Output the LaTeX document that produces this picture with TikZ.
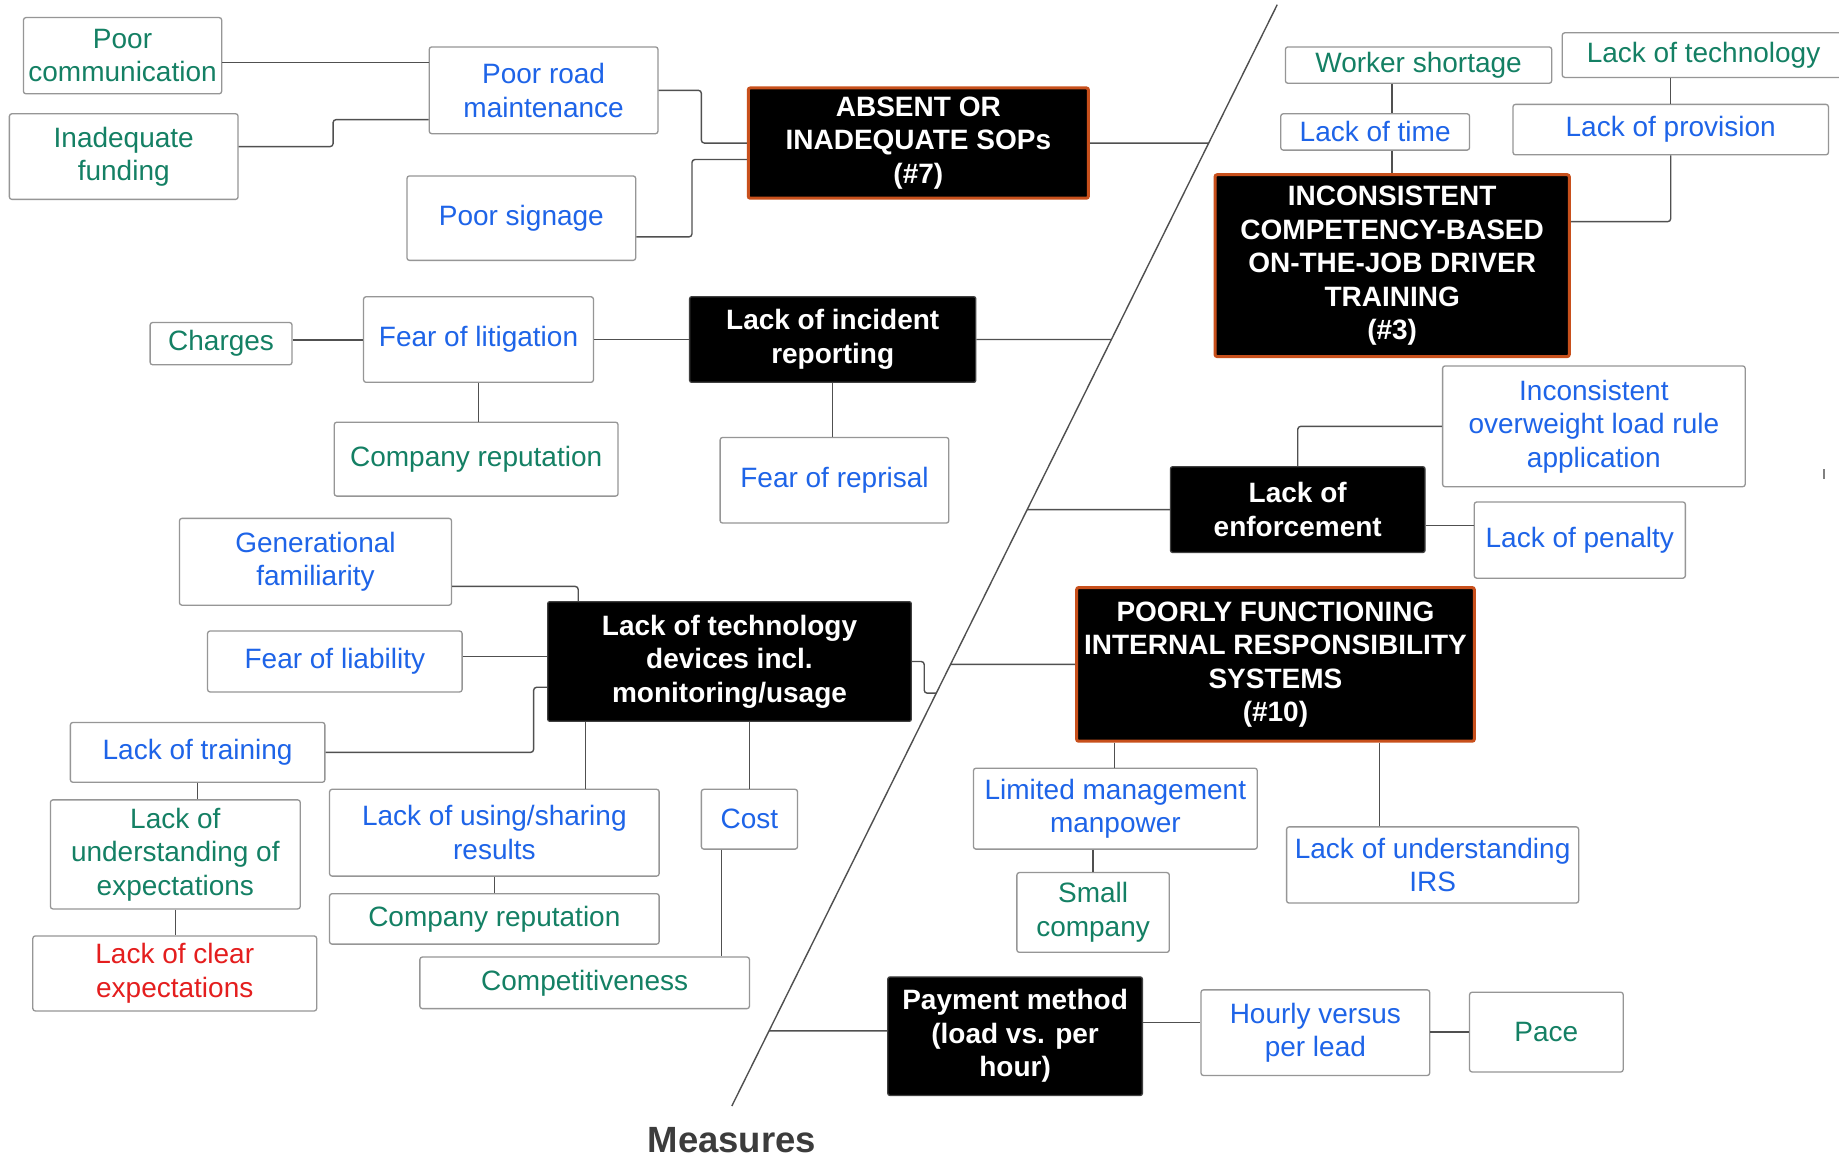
\documentclass[tikz,border=0pt]{standalone}
\usepackage{fontspec}
\setmainfont{Liberation Sans}
\usetikzlibrary{calc}
\definecolor{tgreen}{RGB}{20,128,100}
\definecolor{tblue}{RGB}{30,100,232}
\definecolor{tred}{RGB}{228,30,30}
\definecolor{bgray}{RGB}{150,150,150}
\definecolor{lgray}{RGB}{80,80,80}
\definecolor{korange}{RGB}{200,80,28}
\definecolor{measgray}{RGB}{60,60,60}
\newcommand\mybox[7]{\node[#6, minimum width={(#4-#2)*1.1728pt}, minimum height={(#5-#3)*1.1728pt}] (#1) at ({(#2+#4)/2},{(#3+#5)/2}) {#7};}
\begin{document}
\begin{tikzpicture}[x=1.1728pt,y=-1.1728pt,
  leaf/.style={draw=bgray, line width=1.3pt, rounded corners=2.5pt, fill=white, align=center, inner sep=0pt, font={\fontsize{28}{33.5}\selectfont}},
  gtxt/.style={leaf, text=tgreen},
  btxt/.style={leaf, text=tblue},
  rtxt/.style={leaf, text=tred},
  core/.style={draw=black!75, line width=1.3pt, fill=black, text=white, rounded corners=2pt, align=center, inner sep=0pt, font={\bfseries\fontsize{28}{33.5}\selectfont}},
  keybox/.style={core, draw=korange, line width=3pt},
  conn/.style={draw=lgray, line width=1.4pt, rounded corners=3pt},
  spine/.style={draw=lgray, line width=1.4pt}
]
\fill[white] (0,0) rectangle (1568,987);
\useasboundingbox (0,0) rectangle (1568,987);

% spine
\coordinate (st) at (1089,4);
\coordinate (sb) at (624,943);
\draw[spine] (st) -- (sb);
\coordinate (s1) at ($(st)!{(122-4)/939}!(sb)$);
\coordinate (s2) at ($(st)!{(289.5-4)/939}!(sb)$);
\coordinate (s3) at ($(st)!{(434.5-4)/939}!(sb)$);
\coordinate (s4) at ($(st)!{(591-4)/939}!(sb)$);
\coordinate (s5) at ($(st)!{(566.5-4)/939}!(sb)$);
\coordinate (s6) at ($(st)!{(879-4)/939}!(sb)$);

% top left
\mybox{pc}{20}{15}{189}{80}{gtxt}{Poor\\communication}
\mybox{inf}{8}{97}{203}{170}{gtxt}{Inadequate\\funding}
\mybox{prm}{366}{40}{561}{114}{btxt}{Poor road\\maintenance}
\mybox{ps}{347}{150}{542}{222}{btxt}{Poor signage}
\mybox{sop}{638}{75}{928}{169}{keybox}{ABSENT OR\\INADEQUATE SOPs\\(\#7)}

% top right
\mybox{ws}{1096}{40}{1323}{71}{gtxt}{Worker shortage}
\mybox{ltech}{1332}{28}{1573}{66}{gtxt}{Lack of technology}
\mybox{lt}{1092}{97}{1253}{128}{btxt}{Lack of time}
\mybox{lprov}{1290}{89}{1559}{132}{btxt}{Lack of provision}
\mybox{inc}{1036}{149}{1338}{304}{keybox}{INCONSISTENT\\COMPETENCY-BASED\\ON-THE-JOB DRIVER\\TRAINING\\(\#3)}

% middle left
\mybox{ch}{128}{275}{249}{311}{gtxt}{Charges}
\mybox{fl}{310}{253}{506}{326}{btxt}{Fear of litigation}
\mybox{cra}{285}{360}{527}{423}{gtxt}{Company reputation}
\mybox{lir}{588}{253}{832}{326}{core}{Lack of incident\\reporting}
\mybox{fr}{614}{373}{809}{446}{btxt}{Fear of reprisal}

% lower left
\mybox{gf}{153}{442}{385}{516}{btxt}{Generational\\familiarity}
\mybox{fli}{177}{538}{394}{590}{btxt}{Fear of liability}
\mybox{tech}{467}{513}{777}{615}{core}{Lack of technology\\devices incl.\\monitoring/usage}
\mybox{ltr}{60}{616}{277}{667}{btxt}{Lack of training}
\mybox{lu}{43}{682}{256}{775}{gtxt}{Lack of\\understanding of\\expectations}
\mybox{lce}{28}{798}{270}{862}{rtxt}{Lack of clear\\expectations}
\mybox{lus}{281}{673}{562}{747}{btxt}{Lack of using/sharing\\results}
\mybox{crb}{281}{762}{562}{805}{gtxt}{Company reputation}
\mybox{cost}{598}{673}{680}{724}{btxt}{Cost}
\mybox{comp}{358}{816}{639}{860}{gtxt}{Competitiveness}

% middle right
\mybox{ino}{1230}{312}{1488}{415}{btxt}{Inconsistent\\overweight load rule\\application}
\mybox{enf}{998}{398}{1215}{471}{core}{Lack of\\enforcement}
\mybox{pen}{1257}{428}{1437}{493}{btxt}{Lack of penalty}
\mybox{pf}{918}{501}{1257}{632}{keybox}{POORLY FUNCTIONING\\INTERNAL RESPONSIBILITY\\SYSTEMS\\(\#10)}

% bottom right
\mybox{lmm}{830}{655}{1072}{724}{btxt}{Limited management\\manpower}
\mybox{sc}{867}{744}{997}{812}{gtxt}{Small\\company}
\mybox{lui}{1097}{705}{1346}{770}{btxt}{Lack of understanding\\IRS}
\mybox{pm}{757}{833}{974}{934}{core}{Payment method\\(load vs. per\\hour)}
\mybox{hv}{1024}{844}{1219}{917}{btxt}{Hourly versus\\per lead}
\mybox{pace}{1253}{846}{1384}{914}{gtxt}{Pace}

\node[text=measgray, font={\bfseries\fontsize{36.5}{42}\selectfont}, inner sep=0pt] (meas) at (624,972.5) {Measures};

% connectors top left
\draw[conn] (pc.east |- 0,53.5) -- (prm.west |- 0,53.5);
\draw[conn] (inf.east |- 0,125) -- (284,125) -- (284,102) -- (prm.west |- 0,102);
\draw[conn] (prm.east) -- (598,77) |- (sop.west);
\draw[conn] (ps.east |- 0,202) -- (590,202) -- (590,136) -- (sop.west |- 0,136);
\draw[conn] (sop.east) -- (s1);

% connectors top right
\draw[conn] (ws.south -| 1187,0) -- (lt.north -| 1187,0);
\draw[conn] (lt.south -| inc.north) -- (inc.north);
\draw[conn] (ltech.south -| lprov.north) -- (lprov.north);
\draw[conn] (lprov.south) -- (lprov.south |- 0,189) -- (inc.east |- 0,189);

% connectors middle
\draw[conn] (ch.east |- 0,290) -- (fl.west |- 0,290);
\draw[conn] (fl.east) -- (lir.west);
\draw[conn] (fl.south) -- (fl.south |- cra.north);
\draw[conn] (lir.south) -- (lir.south |- fr.north);
\draw[conn] (lir.east) -- (s2);

% connectors lower left
\draw[conn] (gf.east |- 0,500) -- (493,500) -- (tech.north -| 493,0);
\draw[conn] (fli.east |- 0,560) -- (tech.west |- 0,560);
\draw[conn] (ltr.east) -- (455,641.5) -- (455,586) -- (tech.west |- 0,586);
\draw[conn] (ltr.south) -- (ltr.south |- lu.north);
\draw[conn] (lu.south) -- (lu.south |- lce.north);
\draw[conn] (tech.south -| 499,0) -- (lus.north -| 499,0);
\draw[conn] (tech.south -| cost.north) -- (cost.north);
\draw[conn] (lus.south) -- (lus.south |- crb.north);
\draw[conn] (cost.south -| 615,0) -- (comp.north -| 615,0);
\draw[conn] (tech.east) -- (788,564) -- (788,591) -- (s4);

% connectors middle right
\draw[conn] (enf.north) |- (ino.west);
\draw[conn] (enf.east |- 0,448) -- (pen.west |- 0,448);
\draw[conn] (enf.west) -- (s3);
\draw[conn] (pf.west) -- (s5);
\draw[conn] (pf.south -| 950,0) -- (lmm.north -| 950,0);
\draw[conn] (pf.south -| 1176,0) -- (lui.north -| 1176,0);
\draw[conn] (lmm.south -| sc.north) -- (sc.north);

% connectors bottom
\draw[conn] (pm.west |- 0,879) -- (s6);
\draw[conn] (pm.east |- 0,872) -- (hv.west |- 0,872);
\draw[conn] (hv.east |- 0,880) -- (pace.west |- 0,880);

% stray mark at right edge
\draw[draw=gray, line width=2pt] (1555,400) -- (1555,408);
\end{tikzpicture}
\end{document}
